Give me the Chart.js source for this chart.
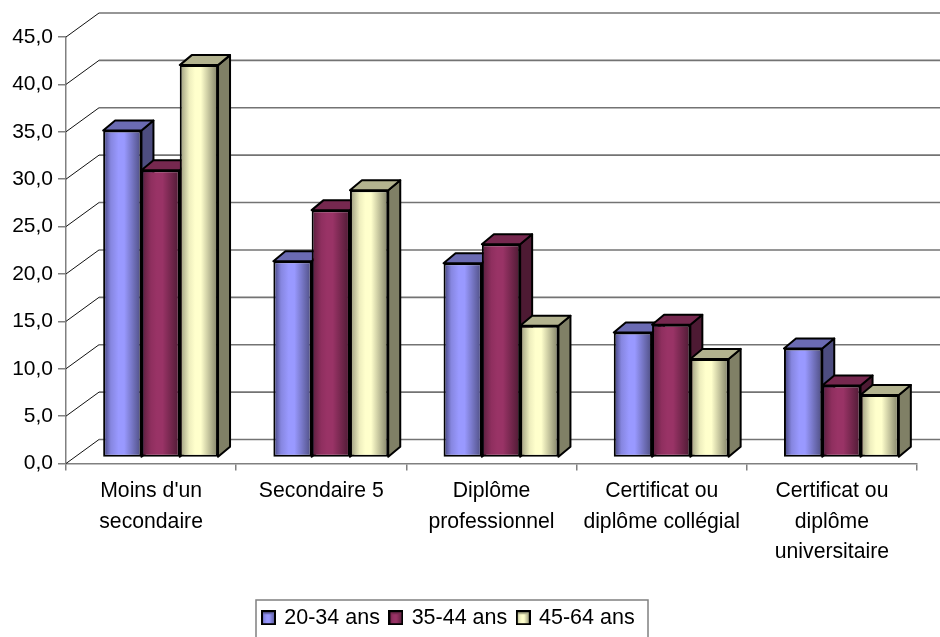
<!DOCTYPE html>
<html>
<head>
<meta charset="utf-8">
<style>
  html, body { margin: 0; padding: 0; background: #fff; overflow: hidden; }
</style>
</head>
<body>
<canvas id="chart" width="940" height="637"></canvas>
<script src="https://cdn.jsdelivr.net/npm/chart.js@4/dist/chart.umd.js"></script>
<script>
const categories = [
    ["Moins d'un", "secondaire"],
    "Secondaire 5",
    ["Diplôme", "professionnel"],
    ["Certificat ou", "diplôme collégial"],
    ["Certificat ou", "diplôme", "universitaire"]
];
const seriesNames = ['20-34 ans', '35-44 ans', '45-64 ans'];
const values2034 = [34.5, 20.7, 20.5, 13.2, 11.5];
const values3544 = [30.3, 26.1, 22.5, 14.0, 7.6];
const values4564 = [41.4, 28.2, 13.9, 10.4, 6.6];

// couleurs : face avant (dégradé), dessus, côté
const frontStops = [
    [[0, '#3f3f78'], [0.2, '#8686e0'], [0.4, '#9999ff'], [0.55, '#9999ff'], [1, '#4d4d80']],
    [[0, '#571d3a'], [0.25, '#8f2f5f'], [0.4, '#993366'], [0.55, '#993366'], [1, '#4d1a33']],
    [[0, '#97977a'], [0.25, '#eeeebe'], [0.4, '#ffffcc'], [0.55, '#ffffcc'], [1, '#808066']]
];
const topColors = ['#6b6bb3', '#76284f', '#b3b38f'];
const sideColors = ['#4d4d80', '#4d1a33', '#808066'];

const FONT = "'Liberation Sans', Arial, sans-serif";
const WALL_DX = 33, WALL_DY = 24;
const BAR_DX = 9.5, BAR_DY = 6;
const DEPTH_X = 12, DEPTH_Y = 10;

function makeSwatch(i) {
    const c = document.createElement('canvas');
    c.width = 15;
    c.height = 15;
    const g = c.getContext('2d');
    const grad = g.createLinearGradient(0, 0, 15, 0);
    frontStops[i].forEach(s => grad.addColorStop(s[0], s[1]));
    g.fillStyle = grad;
    g.fillRect(1, 1, 13, 13);
    g.strokeStyle = '#000';
    g.lineWidth = 2;
    g.strokeRect(1, 1, 13, 13);
    g.fillStyle = topColors[i];
    g.fillRect(2, 2, 11, 2);
    return c;
}

function poly(ctx, pts, fill) {
    ctx.beginPath();
    pts.forEach((p, i) => i ? ctx.lineTo(p[0], p[1]) : ctx.moveTo(p[0], p[1]));
    ctx.closePath();
    ctx.fillStyle = fill;
    ctx.fill();
    ctx.stroke();
}

const scene3d = {
    id: 'scene3d',
    afterLayout(chart) {
        // la legende reste sur une ligne : sa droite depasse le cadre dessine
        chart.legend.left = 252.5;
        chart.legend.right = 720;
        chart.legend.top = 596;
        chart.legend.bottom = 637;
    },
    // murs du fond puis barres, serie par serie (le bleu dessous, le jaune dessus)
    beforeDatasetsDraw(chart) {
        const ctx = chart.ctx;
        const area = chart.chartArea;
        const y = chart.scales.y;
        ctx.save();
        y.ticks.forEach(t => {
            const py = y.getPixelForValue(t.value);
            ctx.strokeStyle = '#111';
            ctx.lineWidth = 1;
            ctx.beginPath();
            ctx.moveTo(area.left, py);
            ctx.lineTo(area.left + WALL_DX, py - WALL_DY);
            ctx.stroke();
            ctx.strokeStyle = '#737373';
            ctx.lineWidth = 1.6;
            ctx.beginPath();
            ctx.moveTo(area.left + WALL_DX, py - WALL_DY);
            ctx.lineTo(chart.width, py - WALL_DY);
            ctx.stroke();
        });
        ctx.translate(BAR_DX, -BAR_DY);
        chart.data.datasets.forEach((ds, i) => {
            const meta = chart.getDatasetMeta(i);
            meta.data.forEach(bar => {
                const l = bar.x - bar.width / 2;
                const r = bar.x + bar.width / 2;
                const t = bar.y;
                const b = bar.base;
                ctx.strokeStyle = '#000';
                ctx.lineWidth = 2;
                ctx.lineJoin = 'round';
                poly(ctx, [[r, t], [r + DEPTH_X, t - DEPTH_Y], [r + DEPTH_X, b - DEPTH_Y], [r, b]], sideColors[i]);
                poly(ctx, [[l, t], [l + DEPTH_X, t - DEPTH_Y], [r + DEPTH_X, t - DEPTH_Y], [r, t]], topColors[i]);
                const grad = ctx.createLinearGradient(l, 0, r, 0);
                frontStops[i].forEach(s => grad.addColorStop(s[0], s[1]));
                const o = Object.create(bar.options);
                o.backgroundColor = grad;
                bar.options = o;
            });
            meta.controller.draw();
        });
        ctx.restore();
        return false;
    },
    afterDraw(chart) {
        const ctx = chart.ctx;
        ctx.save();
        ctx.strokeStyle = '#808080';
        ctx.lineWidth = 1.5;
        ctx.strokeRect(256, 600, 392, 60);
        ctx.restore();
    }
};

new Chart(document.getElementById('chart'), {
    type: 'bar',
    data: {
        labels: categories,
        datasets: [values2034, values3544, values4564].map((vals, i) => ({
            label: seriesNames[i],
            data: vals,
            backgroundColor: () => frontStops[i][2][1],
            borderColor: '#000',
            borderWidth: 2,
            borderSkipped: false,
            categoryPercentage: 0.675,
            barPercentage: 1,
            pointStyle: makeSwatch(i)
        }))
    },
    options: {
        responsive: false,
        animation: false,
        events: [],
        layout: { padding: { top: 37, right: 23, left: 0, bottom: 0 } },
        plugins: {
            tooltip: { enabled: false },
            title: { display: false },
            legend: {
                position: 'bottom',
                align: 'start',
                labels: {
                    usePointStyle: true,
                    boxWidth: 10,
                    boxHeight: 12,
                    padding: 11,
                    color: '#000',
                    font: { family: FONT, size: 21.5 }
                }
            }
        },
        scales: {
            x: {
                afterFit: s => { s.height = 131; },
                grid: { offset: true, drawOnChartArea: false, color: '#808080', lineWidth: 1.5, tickLength: 7 },
                border: { color: '#808080', width: 1.5 },
                ticks: {
                    autoSkip: false,
                    maxRotation: 0,
                    minRotation: 0,
                    padding: 6,
                    color: '#000',
                    font: { family: FONT, size: 21.2, lineHeight: 1.42 }
                }
            },
            y: {
                min: 0,
                max: 45,
                afterFit: s => { s.width = 66; },
                grid: { drawOnChartArea: false, color: '#808080', lineWidth: 1.5, tickLength: 8 },
                border: { color: '#808080', width: 1.5 },
                ticks: {
                    stepSize: 5,
                    padding: 5,
                    color: '#000',
                    font: { family: FONT, size: 21 },
                    callback: v => v.toFixed(1).replace('.', ',')
                }
            }
        }
    },
    plugins: [scene3d]
});
</script>
</body>
</html>
